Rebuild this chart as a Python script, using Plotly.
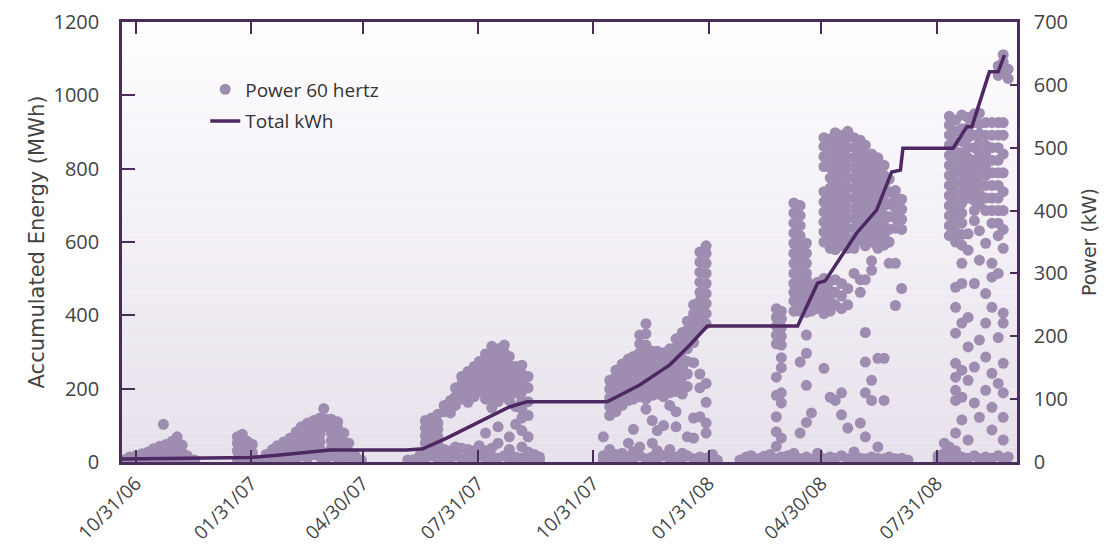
import plotly.graph_objects as go

# ---- Accumulated energy (MWh, left axis) ----
energy_dates = ["2006-10-20", "2007-01-30", "2007-02-23", "2007-03-15", "2007-04-04",
                "2007-06-04", "2007-06-17", "2007-07-06", "2007-07-24", "2007-08-09",
                "2007-08-25", "2007-09-08", "2007-11-11", "2007-12-07", "2007-12-31",
                "2008-01-16", "2008-01-30", "2008-04-11", "2008-04-27", "2008-05-03",
                "2008-05-28", "2008-06-13", "2008-06-25", "2008-07-02", "2008-07-04",
                "2008-08-13", "2008-08-24", "2008-08-28", "2008-09-11", "2008-09-18",
                "2008-09-23"]
energy_mwh = [8, 12, 19, 27, 33, 33, 36, 65, 95, 123, 150, 164, 164, 210, 265, 319, 371,
              371, 488, 494, 624, 687, 791, 796, 856, 856, 914, 914, 1064, 1064, 1110]

# ---- Power readings at 60 hertz (kW, right axis), grouped by day ----
fall06_dates = ["2006-10-21", "2006-10-26", "2006-10-31", "2006-11-05", "2006-11-10",
                "2006-11-14", "2006-11-19", "2006-11-22", "2006-11-24", "2006-11-29",
                "2006-12-03", "2006-12-07", "2006-12-11", "2006-12-17"]
fall06_kw = [[3], [4, 8], [3, 10], [4, 13], [5, 16], [4, 12, 21], [5, 14, 25], [60],
             [6, 17, 28], [8, 20, 33], [5, 18, 30, 40], [6, 15, 27], [4, 10], [3]]

winter07_dates = ["2007-01-20", "2007-01-24", "2007-01-28", "2007-02-01", "2007-02-05"]
winter07_kw = [[5, 18, 30, 40], [8, 22, 36, 44], [6, 20, 33], [4, 15, 28], [3]]

spring07_dates = ["2007-02-12", "2007-02-17", "2007-02-21", "2007-02-26", "2007-03-03",
                  "2007-03-08", "2007-03-12", "2007-03-17", "2007-03-22", "2007-03-27",
                  "2007-03-30", "2007-04-01", "2007-04-05", "2007-04-10", "2007-04-15",
                  "2007-04-19", "2007-04-24", "2007-04-29"]
spring07_kw = [[4, 12], [5, 14, 20], [6, 15, 26], [4, 14, 24, 32], [8, 18, 28, 38],
               [5, 16, 27, 38, 48], [10, 22, 34, 46, 56], [6, 18, 30, 42, 54, 62],
               [12, 24, 36, 48, 58, 66], [8, 20, 32, 44, 58, 70], [85], [5, 14, 56, 68],
               [10, 22, 34, 46, 58, 68], [6, 18, 30, 42, 54, 64], [8, 20, 32, 46],
               [5, 16, 30], [4, 10], [3]]

summer07_dates = ["2007-06-05", "2007-06-10", "2007-06-15", "2007-06-19", "2007-06-24",
                  "2007-06-29", "2007-07-04", "2007-07-09", "2007-07-13", "2007-07-18",
                  "2007-07-23", "2007-07-28", "2007-08-01", "2007-08-06", "2007-08-11",
                  "2007-08-16", "2007-08-21", "2007-08-25", "2007-08-30", "2007-09-04",
                  "2007-09-09", "2007-09-14", "2007-09-18"]
summer07_kw = [[3], [4], [5, 12], [6, 18, 30, 42, 54, 66], [10, 22, 34, 46, 58, 70],
               [5, 16, 28, 40, 52, 62, 76], [8, 20, 80, 90], [6, 18, 78, 88, 98],
               [10, 24, 90, 104, 118], [5, 22, 100, 112, 124, 136],
               [8, 20, 95, 108, 120, 132, 144], [6, 18, 104, 116, 128, 140, 152],
               [10, 26, 112, 124, 136, 148, 160],
               [5, 18, 46, 100, 112, 124, 136, 148, 160, 172],
               [8, 22, 86, 100, 116, 130, 144, 158, 170, 184],
               [6, 30, 56, 96, 110, 124, 138, 152, 166, 180],
               [10, 104, 118, 132, 146, 160, 174, 186],
               [5, 20, 40, 98, 112, 126, 140, 154, 168],
               [8, 60, 88, 110, 124, 138, 152],
               [6, 24, 50, 70, 84, 98, 112, 126, 140, 154],
               [5, 16, 40, 74, 96, 118, 136], [4, 12], [3, 8]]

winter08_dates = ["2007-11-08", "2007-11-13", "2007-11-18", "2007-11-23", "2007-11-28",
                  "2007-12-02", "2007-12-07", "2007-12-12", "2007-12-17", "2007-12-21",
                  "2007-12-26", "2007-12-31", "2008-01-05", "2008-01-10", "2008-01-14",
                  "2008-01-19", "2008-01-24", "2008-01-29", "2008-02-03", "2008-02-07"]
winter08_kw = [[3, 10, 40], [4, 20, 74, 88, 102, 116, 130],
               [6, 12, 80, 94, 108, 122, 136, 146],
               [5, 14, 90, 104, 118, 132, 146, 156],
               [8, 30, 98, 112, 126, 140, 154, 164],
               [6, 16, 52, 100, 114, 128, 142, 156, 168],
               [10, 24, 104, 118, 132, 146, 160, 174, 188, 202],
               [5, 84, 100, 114, 128, 142, 156, 170, 186, 204, 220],
               [8, 30, 66, 106, 120, 134, 148, 162, 176],
               [6, 18, 50, 108, 122, 136, 150, 164, 176],
               [10, 58, 104, 118, 132, 146, 160, 174],
               [5, 20, 90, 110, 124, 138, 152, 166, 180],
               [8, 56, 80, 112, 126, 140, 154, 168, 182, 196],
               [6, 14, 108, 122, 136, 150, 164, 178, 192, 206],
               [10, 40, 120, 140, 160, 180, 196, 210, 224],
               [5, 38, 70, 158, 190, 206, 222, 236, 250],
               [8, 72, 118, 140, 214, 228, 242, 256, 270, 286, 302, 318, 334],
               [6, 46, 62, 95, 125, 220, 236, 252, 268, 284, 300, 316, 332, 344],
               [4, 12], [3]]

spring08_dates = ["2008-02-25", "2008-03-01", "2008-03-05", "2008-03-10", "2008-03-15",
                  "2008-03-20", "2008-03-25", "2008-03-29", "2008-04-03", "2008-04-08",
                  "2008-04-13", "2008-04-18", "2008-04-22", "2008-04-27", "2008-05-02",
                  "2008-05-07", "2008-05-11", "2008-05-16", "2008-05-21", "2008-05-26",
                  "2008-05-31", "2008-06-04", "2008-06-09", "2008-06-14", "2008-06-19",
                  "2008-06-23", "2008-06-28", "2008-07-03", "2008-07-08"]
spring08_kw = [[3], [4, 8], [3, 10], [5], [4, 9], [6, 12],
               [5, 25, 48, 72, 106, 135, 188, 202, 216, 230, 244],
               [8, 38, 94, 110, 150, 166, 186, 200, 214, 228, 240],
               [4, 10],
               [6, 14, 240, 256, 270, 284, 300, 316, 332, 348, 364, 380, 396, 412],
               [5, 46, 159, 240, 254, 268, 282, 296, 312, 328, 344, 360, 376, 392, 408],
               [8, 63, 122, 173, 202, 238, 252, 266, 280, 290, 300, 316, 332, 348],
               [4, 78, 240, 254, 268, 282],
               [6, 14, 244, 258, 272, 286],
               [5, 149, 236, 250, 264, 278, 292, 350, 366, 382, 398, 414, 430, 470, 486,
                502, 516],
               [8, 103, 240, 256, 272, 288, 340, 356, 372, 388, 404, 420, 436, 452, 468,
                484, 500, 514],
               [6, 98, 250, 270, 290, 338, 354, 370, 386, 402, 418, 434, 450, 466, 482,
                498, 512, 524],
               [10, 75, 110, 244, 264, 284, 344, 360, 376, 392, 408, 424, 440, 456, 472,
                488, 504, 520],
               [5, 54, 250, 276, 340, 356, 372, 388, 404, 420, 436, 452, 468, 484, 500,
                516, 526],
               [8, 16, 300, 340, 356, 372, 388, 404, 420, 436, 452, 468, 484, 500, 516],
               [6, 62, 270, 290, 352, 368, 384, 400, 416, 432, 448, 464, 480, 496, 512],
               [5, 40, 110, 159, 206, 290, 344, 360, 376, 392, 408, 424, 440, 456, 472,
                488, 504],
               [8, 98, 130, 305, 320, 350, 366, 382, 398, 414, 430, 446, 462, 478, 490],
               [6, 24, 165, 340, 356, 372, 388, 404, 420, 436, 452, 468, 484],
               [5, 98, 165, 345, 360, 376, 392, 408, 424, 440, 456, 472],
               [8, 316, 350, 370, 390, 410, 430, 450],
               [5, 249, 316, 372, 388, 404, 420, 432],
               [6, 276, 370, 386, 402, 418],
               [3]]

summer08_dates = ["2008-08-01", "2008-08-06", "2008-08-10", "2008-08-15", "2008-08-20",
                  "2008-08-25", "2008-08-30", "2008-09-03", "2008-09-08", "2008-09-13",
                  "2008-09-18", "2008-09-22", "2008-09-26"]
summer08_kw = [[4, 10], [6, 14, 30],
               [3, 10, 24, 360, 376, 392, 408, 424, 440, 456, 472, 488, 504, 520, 536, 550],
               [5, 18, 46, 98, 114, 135, 157, 205, 246, 278, 350, 366, 382, 398, 414, 430,
                446, 462, 478, 494, 510, 526, 544],
               [8, 67, 103, 146, 221, 284, 316, 345, 362, 380, 396, 412, 428, 444, 460,
                476, 492, 510, 530, 552],
               [6, 35, 130, 183, 230, 337, 363, 420, 436, 452, 468, 484, 500, 516, 532, 548],
               [10, 94, 151, 284, 384, 400, 416, 432, 448, 464, 480, 500, 520, 540, 554],
               [5, 71, 194, 321, 368, 410, 426, 442, 458, 474, 490, 506, 522, 538, 555],
               [8, 114, 167, 221, 268, 348, 400, 420, 440, 456, 472, 488, 504, 520, 540],
               [6, 51, 87, 141, 246, 294, 316, 380, 400, 420, 440, 460, 480, 500, 520, 540],
               [10, 125, 198, 300, 360, 380, 400, 420, 440, 460, 480, 500, 520, 540, 615,
                630],
               [5, 35, 71, 110, 157, 221, 237, 340, 370, 400, 430, 460, 490, 520, 540, 620,
                636, 648],
               [8, 610, 625]]

# ---- Axis ticks ----
tick_dates = ["2006-10-31", "2007-01-31", "2007-04-30", "2007-07-31",
              "2007-10-31", "2008-01-31", "2008-04-30", "2008-07-31"]
tick_labels = ["10/31/06", "01/31/07", "04/30/07", "07/31/07",
               "10/31/07", "01/31/08", "04/30/08", "07/31/08"]

# Flatten the per-day readings into point lists
power_x, power_y = [], []
for dates, readings in [(fall06_dates, fall06_kw), (winter07_dates, winter07_kw),
                        (spring07_dates, spring07_kw), (summer07_dates, summer07_kw),
                        (winter08_dates, winter08_kw), (spring08_dates, spring08_kw),
                        (summer08_dates, summer08_kw)]:
    for d, vals in zip(dates, readings):
        for v in vals:
            power_x.append(d)
            power_y.append(v)

FRAME = "#4a2d5a"
TEXT = "#444444"
FONT = "Open Sans"
TITLE_FONT = "DejaVu Sans"

fig = go.Figure()
fig.add_trace(go.Scatter(
    x=power_x, y=power_y, mode="markers", name="Power 60 hertz",
    yaxis="y", legendgroup="a",
    marker=dict(size=11, color="#9e8db1", line=dict(width=0)),
))
fig.add_trace(go.Scatter(
    x=energy_dates, y=energy_mwh, mode="lines", name="Total kWh",
    yaxis="y2", legendgroup="b",
    line=dict(color="#4d2863", width=3.5),
))

# Soft vertical gradient behind the plot area
shapes = []
n_bands = 60
top_rgb = (254, 253, 255)
bot_rgb = (231, 225, 235)
for i in range(n_bands):
    t = i / (n_bands - 1)
    r, g, b = [round(top_rgb[k] + (bot_rgb[k] - top_rgb[k]) * t) for k in range(3)]
    shapes.append(dict(
        type="rect", xref="paper", yref="paper", layer="below",
        x0=0, x1=1, y1=1 - i / n_bands, y0=1 - (i + 1) / n_bands,
        fillcolor=f"rgb({r},{g},{b})", line=dict(width=0),
    ))

fig.update_layout(
    width=1111, height=549,
    margin=dict(l=122, r=94, t=22, b=87, autoexpand=False),
    paper_bgcolor="white", plot_bgcolor="white",
    shapes=shapes,
    showlegend=True,
    legend=dict(x=0.093, y=0.89, xanchor="left", yanchor="top",
                bgcolor="rgba(0,0,0,0)", font=dict(family=FONT, size=19, color="#333333"),
                itemwidth=30, tracegroupgap=4),
    xaxis=dict(
        type="date", range=["2006-10-20", "2008-10-03"], automargin=False,
        tickmode="array", tickvals=tick_dates, ticktext=tick_labels, tickangle=-45,
        ticks="inside", ticklen=12, tickwidth=2, tickcolor=FRAME,
        showline=True, linecolor=FRAME, linewidth=2.5, mirror="ticks",
        showgrid=False, zeroline=False,
        tickfont=dict(family=FONT, size=19, color=TEXT),
    ),
    yaxis=dict(
        side="right", range=[0, 700], dtick=100, automargin=False,
        ticks="inside", ticklen=7, tickwidth=2, tickcolor=FRAME,
        showline=True, linecolor=FRAME, linewidth=2.5,
        showgrid=False, zeroline=False, ticklabelstandoff=10,
        tickfont=dict(family=FONT, size=20, color=TEXT),
        title=dict(text="Power (kW)", standoff=16,
                   font=dict(family=TITLE_FONT, size=19, color=TEXT)),
    ),
    yaxis2=dict(
        overlaying="y", side="left", range=[0, 1200], dtick=200, automargin=False,
        ticks="inside", ticklen=13, tickwidth=2, tickcolor=FRAME,
        showline=True, linecolor=FRAME, linewidth=2.5,
        showgrid=False, zeroline=False, ticklabelstandoff=16,
        tickfont=dict(family=FONT, size=20, color=TEXT),
        title=dict(text="Accumulated Energy (MWh)", standoff=4,
                   font=dict(family=TITLE_FONT, size=21, color=TEXT)),
    ),
)

fig.write_html("out.html")
